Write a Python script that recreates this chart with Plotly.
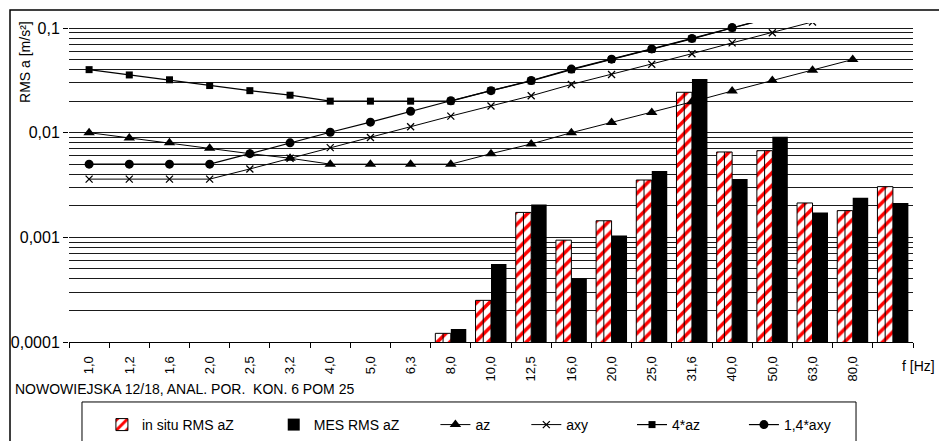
import plotly.graph_objects as go

# ---- data ----
labels = ["1,0", "1,2", "1,6", "2,0", "2,5", "3,2", "4,0", "5,0", "6,3", "8,0",
          "10,0", "12,5", "16,0", "20,0", "25,0", "31,6", "40,0", "50,0", "63,0", "80,0", " "]

insitu = [None, None, None, None, None, None, None, None, None,
          0.000121, 0.000250, 0.00173, 0.00094, 0.00144, 0.00353, 0.0243,
          0.00654, 0.00673, 0.00213, 0.00180, 0.00305]
mes = [None, None, None, None, None, None, None, None, None,
       0.000133, 0.000557, 0.00206, 0.000406, 0.00104, 0.00430, 0.0326,
       0.00361, 0.00916, 0.00173, 0.00239, 0.00213]

az = [0.0100, 0.0089, 0.0080, 0.0071, 0.0063, 0.0057, 0.0050, 0.0050, 0.0050, 0.0050,
      0.0063, 0.0078, 0.0100, 0.0125, 0.0156, 0.0197, 0.0250, 0.0315, 0.0394, 0.0500, None]
axy = [0.0036, 0.0036, 0.0036, 0.0036, 0.0045, 0.0057, 0.0072, 0.0090, 0.0114, 0.0144,
       0.0180, 0.0225, 0.0289, 0.0360, 0.0451, 0.0568, 0.0721, 0.0902, 0.1140, 0.1440, None]
az4 = [0.0400, 0.0356, 0.0320, 0.0282, 0.0252, 0.0228, 0.0200, 0.0200, 0.0200, 0.0200,
       0.0252, 0.0312, 0.0400, 0.0500, 0.0624, 0.0788, 0.1000, 0.1260, 0.1576, 0.2000, None]
axy14 = [0.0050, 0.0050, 0.0050, 0.0050, 0.0063, 0.0080, 0.0101, 0.0126, 0.0160, 0.0202,
         0.0252, 0.0315, 0.0405, 0.0504, 0.0631, 0.0795, 0.1009, 0.1263, 0.1596, 0.2016, None]

ytickvals = [0.0001, 0.001, 0.01, 0.1]
yticktext = ["0,0001", "0,001", "0,01", "0,1"]

names = ["in situ RMS aZ", "MES RMS aZ", "az", "axy", "4*az", "1,4*axy"]

FONT = "Liberation Sans, Arial, sans-serif"
ymin = 0.0001
NB = "\u00a0"
# trailing non-breaking spaces only widen legend entries to match the reference spacing
pad = [9, 8, 8, 10, 10, 0]
legend_names = [n + NB * p for n, p in zip(names, pad)]

fig = go.Figure()

fig.add_trace(go.Bar(
    x=labels, y=insitu, name=legend_names[0],
    marker=dict(color="white",
                line=dict(color="black", width=1),
                pattern=dict(shape="/", fgcolor="#ff0000", bgcolor="white",
                             size=9, solidity=0.4, fillmode="replace")),
    error_y=dict(type="data", symmetric=False,
                 array=[0 if v is not None else None for v in insitu],
                 arrayminus=[(v - ymin) if v is not None else None for v in insitu],
                 width=0, color="black", thickness=1),
))
fig.add_trace(go.Bar(
    x=labels, y=mes, name=legend_names[1],
    marker=dict(color="black", line=dict(color="black", width=0)),
))

fig.add_trace(go.Scatter(x=labels, y=az, name=legend_names[2], mode="lines+markers",
                         line=dict(color="black", width=1),
                         marker=dict(symbol="triangle-up", size=10, color="black")))
fig.add_trace(go.Scatter(x=labels, y=axy, name=legend_names[3], mode="lines+markers",
                         line=dict(color="black", width=1),
                         marker=dict(symbol="x-thin", size=7, color="black",
                                     line=dict(color="black", width=1.3))))
fig.add_trace(go.Scatter(x=labels, y=az4, name=legend_names[4], mode="lines+markers",
                         line=dict(color="black", width=1.2),
                         marker=dict(symbol="square", size=7, color="black")))
fig.add_trace(go.Scatter(x=labels, y=axy14, name=legend_names[5], mode="lines+markers",
                         line=dict(color="black", width=1.2),
                         marker=dict(symbol="circle", size=9, color="black")))

minor_vals = [k * 10 ** e for e in range(-4, -1) for k in range(2, 10)]

fig.update_layout(
    width=939, height=441,
    margin=dict(l=69, r=26, t=23, b=99, autoexpand=False),
    paper_bgcolor="white", plot_bgcolor="white",
    font=dict(family=FONT, size=14, color="black"),
    barmode="group", bargap=0.23, bargroupgap=0,
    showlegend=True,
    legend=dict(orientation="h", x=0.039, y=-0.210, xanchor="left", yanchor="top",
                borderwidth=0, bgcolor="rgba(0,0,0,0)",
                font=dict(family=FONT, size=14, color="black"),
                traceorder="normal"),
    xaxis=dict(type="category", categoryorder="array", categoryarray=labels,
               range=[-0.5, len(labels) - 0.5],
               showline=True, linecolor="black", linewidth=1,
               ticks="outside", tickson="boundaries", ticklen=5, tickcolor="black",
               tickangle=-90, tickfont=dict(family=FONT, size=13, color="black"),
               ticklabelstandoff=8, automargin=False,
               showgrid=False, zeroline=False, fixedrange=True),
    yaxis=dict(type="log", range=[-4, -1 + 5 / 104.67],
               tickvals=ytickvals, ticktext=yticktext,
               tickfont=dict(family=FONT, size=16, color="black"),
               ticks="outside", ticklen=5, tickcolor="black", automargin=False,
               showline=False, showgrid=True, gridcolor="#1a1a1a", gridwidth=1,
               minor=dict(tickvals=minor_vals, showgrid=True, gridcolor="#1a1a1a",
                          gridwidth=1, ticks=""),
               zeroline=False, fixedrange=True),
    shapes=[
        # y axis line from 0.0001 to 0.1
        dict(type="line", xref="paper", yref="y", x0=0, x1=0, y0=-4, y1=-1,
             line=dict(color="black", width=1)),
        # outer chart frame (right and bottom edges lie outside the picture)
        dict(type="rect", xref="paper", yref="paper",
             x0=-0.0699, x1=1.2, y0=-0.6, y1=1.0408,
             line=dict(color="black", width=1.5), fillcolor="rgba(0,0,0,0)"),
        # legend box (bottom edge lies outside the picture)
        dict(type="rect", xref="paper", yref="paper",
             x0=0.0154, x1=0.9325, y0=-0.6, y1=-0.188,
             line=dict(color="black", width=1), fillcolor="rgba(0,0,0,0)"),
    ],
    annotations=[
        dict(text="RMS a [m/s²]", xref="paper", yref="paper", x=-0.0521, y=0.878,
             textangle=-90, showarrow=False, xanchor="center", yanchor="middle",
             font=dict(family=FONT, size=14, color="black")),
        dict(text="f [Hz]", xref="paper", yref="paper", x=1.006, y=-0.075,
             showarrow=False, xanchor="center", yanchor="middle",
             font=dict(family=FONT, size=14, color="black")),
        dict(text="NOWOWIEJSKA 12/18, ANAL. POR.  KON. 6 POM 25", xref="paper", yref="paper",
             x=-0.0664, y=-0.147, showarrow=False, xanchor="left", yanchor="middle",
             font=dict(family=FONT, size=14, color="black")),
    ],
)

fig.write_html("out.html", config=dict(displayModeBar=False),
               post_script="document.body.style.margin='0';document.body.style.overflow='hidden';")
